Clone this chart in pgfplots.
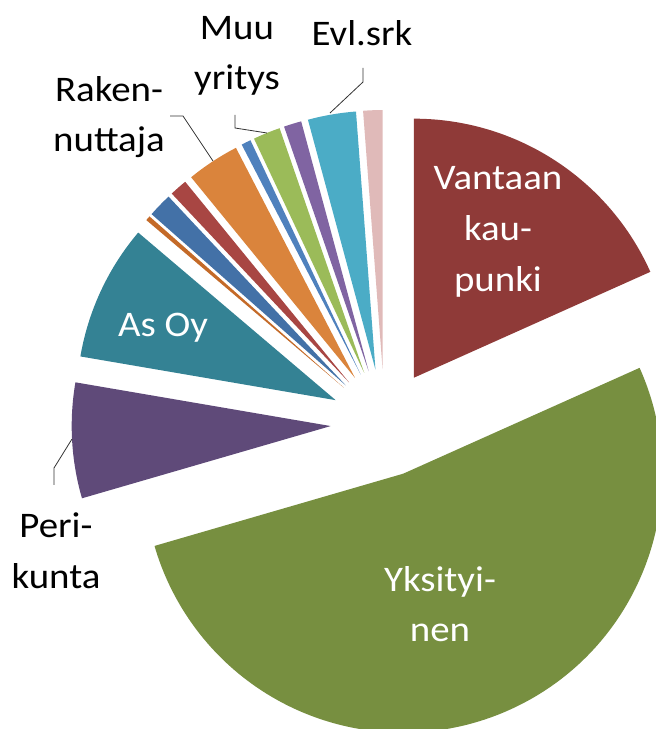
\documentclass[border=0pt]{standalone}
\usepackage{pgfplots}
\pgfplotsset{compat=1.18}
\usepackage{pgfplotstable}
\usepackage{fontspec}
\setmainfont{Carlito}[FakeStretch=1.08]

% slice colours (clockwise from 12 o'clock)
\definecolor{cVan}{RGB}{143,58,56}
\definecolor{cYks}{RGB}{119,143,64}
\definecolor{cPer}{RGB}{95,74,121}
\definecolor{cAsOy}{RGB}{52,130,148}
\definecolor{cOrD}{RGB}{196,106,40}
\definecolor{cBlu}{RGB}{67,113,167}
\definecolor{cRed}{RGB}{168,70,67}
\definecolor{cOra}{RGB}{218,132,60}
\definecolor{cBlt}{RGB}{79,129,189}
\definecolor{cGrn}{RGB}{155,187,89}
\definecolor{cPur}{RGB}{128,100,162}
\definecolor{cCya}{RGB}{75,172,198}
\definecolor{cPnk}{RGB}{224,186,185}

% shares in percent
\pgfplotstableread{
share color
18.3 cVan
52.2 cYks
7.2  cPer
8.5  cAsOy
0.3  cOrD
1.5  cBlu
1.1  cRed
3.3  cOra
0.6  cBlt
1.7  cGrn
1.1  cPur
3.0  cCya
1.2  cPnk
}\shares

\begin{document}
\begin{tikzpicture}
% pie geometry in pixel units: centre, explosion, radius
\def\cx{384.6}\def\cy{306}\def\ex{54}
\def\rad{194.25pt}% 259 px
\gdef\cum{0}%
\pgfplotsforeachungrouped \i in {0,...,12}{%
  \pgfplotstablegetelem{\i}{share}\of\shares
  \let\v\pgfplotsretval
  \pgfmathsetmacro{\a}{90-\cum*3.6}%
  \pgfmathsetmacro{\b}{90-(\cum+\v)*3.6}%
  \pgfmathsetmacro{\cum}{\cum+\v}%
  \pgfmathsetmacro{\m}{(\a+\b)/2}%
  \pgfmathsetmacro{\ox}{\cx+\ex*cos(\m)}%
  \pgfmathsetmacro{\oy}{\cy+\ex*sin(\m)}%
  \expandafter\xdef\csname sa\i\endcsname{\a}%
  \expandafter\xdef\csname sb\i\endcsname{\b}%
  \expandafter\xdef\csname ox\i\endcsname{\ox}%
  \expandafter\xdef\csname oy\i\endcsname{\oy}%
  \pgfplotstablegetelem{\i}{color}\of\shares
  \expandafter\xdef\csname sc\i\endcsname{\pgfplotsretval}%
}%
\begin{axis}[
    name=ax,
    x=0.75pt, y=0.75pt,
    xmin=0, xmax=656, ymin=0, ymax=729,
    hide axis,
    clip=true,
  ]
  \pgfplotsinvokeforeach{0,...,12}{%
    \fill[\csname sc#1\endcsname]
      (axis cs:\csname ox#1\endcsname,\csname oy#1\endcsname)
      -- ++(\csname sa#1\endcsname:\rad)
      arc[start angle=\csname sa#1\endcsname, end angle=\csname sb#1\endcsname, radius=\rad]
      -- cycle;
  }

  % leader lines
  \draw[black!80, line width=0.6pt] (axis cs:170,613) -- (axis cs:183,613) -- (axis cs:213,568);
  \draw[black!80, line width=0.6pt] (axis cs:235,614) -- (axis cs:235,601) -- (axis cs:267,596);
  \draw[black!80, line width=0.6pt] (axis cs:363,661) -- (axis cs:363,647) -- (axis cs:330,616);
  \draw[black!80, line width=0.6pt] (axis cs:54,244) -- (axis cs:54,261) -- (axis cs:72,290);

  % labels
  \begin{scope}[every node/.style={font=\fontsize{27pt}{38pt}\selectfont, align=center, inner sep=0pt}]
    \node[white] at (axis cs:498,497) {Vantaan\\kau-\\punki};
    \node[white] at (axis cs:440,125) {Yksityi-\\nen};
    \node[white] at (axis cs:163,401) {As Oy};
    \node at (axis cs:56,178) {Peri-\\kunta};
    \node at (axis cs:109,612) {Raken-\\nuttaja};
    \node at (axis cs:237,673) {Muu\\yritys};
    \node at (axis cs:362,696) {Evl.srk};
  \end{scope}
\end{axis}
\pgfresetboundingbox
\path (ax.south west) rectangle (ax.north east);
\end{tikzpicture}
\end{document}
